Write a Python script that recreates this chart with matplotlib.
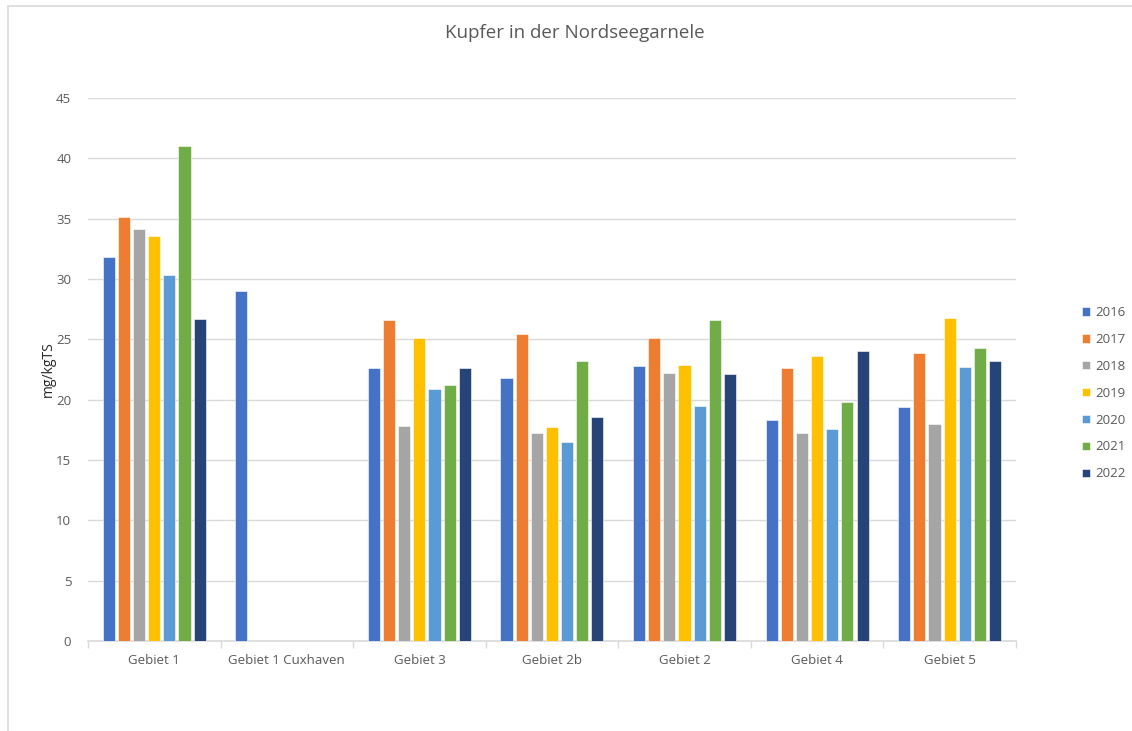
import matplotlib.pyplot as plt
import numpy as np
from matplotlib.patches import Rectangle

# Data
gebiete = ['Gebiet 1', 'Gebiet 1 Cuxhaven', 'Gebiet 3', 'Gebiet 2b',
           'Gebiet 2', 'Gebiet 4', 'Gebiet 5']
jahre = ['2016', '2017', '2018', '2019', '2020', '2021', '2022']

w2016 = [31.8, 29.0, 22.6, 21.8, 22.8, 18.3, 19.4]
w2017 = [35.1, np.nan, 26.6, 25.4, 25.1, 22.6, 23.9]
w2018 = [34.1, np.nan, 17.8, 17.2, 22.2, 17.2, 18.0]
w2019 = [33.6, np.nan, 25.1, 17.7, 22.9, 23.6, 26.8]
w2020 = [30.3, np.nan, 20.9, 16.5, 19.5, 17.6, 22.7]
w2021 = [41.0, np.nan, 21.2, 23.2, 26.6, 19.8, 24.3]
w2022 = [26.7, np.nan, 22.6, 18.6, 22.1, 24.0, 23.2]
werte = [w2016, w2017, w2018, w2019, w2020, w2021, w2022]

farben = ['#4472c4', '#ed7d31', '#a5a5a5', '#ffc000',
          '#5b9bd5', '#70ad47', '#264478']

plt.rcParams['font.family'] = ['Open Sans', 'DejaVu Sans']
text_grau = '#595959'

fig = plt.figure(figsize=(11.32, 7.31), dpi=100)
ax = fig.add_axes([0.0777, 0.1231, 0.8198, 0.7429])

# light frame (left and top edge visible)
fig.patches.append(Rectangle((8 / 1132, -0.1), 1.2, 1.1 - 6 / 731,
                             transform=fig.transFigure, fill=False,
                             edgecolor='#d9d9d9', linewidth=1.2))

x = np.arange(len(gebiete))
slot = 0.8 / len(jahre)
for i, (jahr, vals) in enumerate(zip(jahre, werte)):
    pos = x - 0.4 + slot * (i + 0.5)
    ax.bar(pos, vals, width=slot * 0.8, color=farben[i], label=jahr,
           edgecolor='white', linewidth=0.4, zorder=3)

ax.set_xlim(-0.5, len(gebiete) - 0.5)
ax.set_ylim(0, 45)
ax.set_yticks(range(0, 46, 5))
ax.grid(axis='y', color='#d9d9d9', linewidth=1, zorder=0)
ax.tick_params(axis='y', length=0, pad=12, labelsize=9.5, labelcolor=text_grau)

ax.set_xticks(x)
ax.set_xticklabels(gebiete)
ax.tick_params(axis='x', length=0, pad=9, labelsize=9.5, labelcolor=text_grau)
# separators between categories
ax.set_xticks(np.arange(-0.5, len(gebiete), 1), minor=True)
ax.tick_params(axis='x', which='minor', length=5, color='#d9d9d9', width=1)

for s in ['top', 'right', 'left']:
    ax.spines[s].set_visible(False)
ax.spines['bottom'].set_color('#d9d9d9')
ax.spines['bottom'].set_linewidth(1.2)

ax.set_ylabel('mg/kgTS', fontsize=10, color='#262626', labelpad=0)
fig.text(0.508, 1 - 33 / 731, 'Kupfer in der Nordseegarnele', fontsize=13.5,
         color=text_grau, ha='center', va='center')

fig.legend(loc='center left', bbox_to_anchor=(0.951, 0.462), frameon=False,
           fontsize=9.5, labelcolor=text_grau, handlelength=0.6,
           handleheight=0.6, handletextpad=0.4, labelspacing=1.05,
           borderaxespad=0)

fig.savefig('out.png', dpi=100)
